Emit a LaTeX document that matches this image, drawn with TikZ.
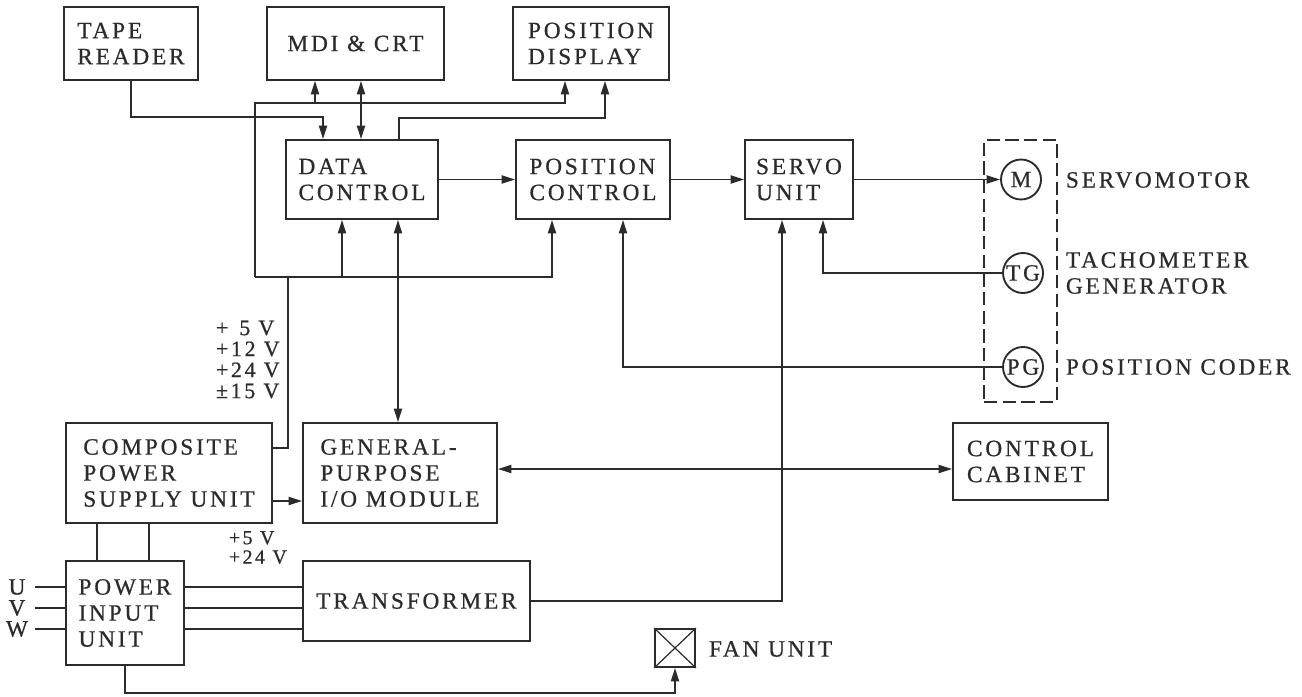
\documentclass[tikz,border=0pt]{standalone}
\usepackage{fontspec}
\setmainfont{Liberation Serif}[LetterSpace=12,FakeBold=0.6]
\usetikzlibrary{arrows.meta,calc}
\definecolor{ink}{HTML}{2B2B2B}
\newcommand\boxfont{\fontsize{17.5}{19.5}\selectfont}
\newcommand\voltfont{\fontsize{16.5}{15.75}\selectfont}
\newcommand\voltfontb{\fontsize{15}{14.5}\selectfont}
\begin{document}
\begin{tikzpicture}[x=0.75pt,y=-0.75pt,color=ink,line width=1.4pt,
  bx/.style n args={2}{draw, align=left, inner sep=0pt, font=\boxfont,
     minimum width=#1*0.75pt, minimum height=#2*0.75pt},
  lbl/.style={inner sep=0pt, anchor=west, align=left, font=\boxfont},
  circ/.style={draw, circle, minimum size=40*0.75pt, inner sep=0pt, font=\boxfont},
  phase/.style={inner sep=0pt, minimum width=34*0.75pt, font=\boxfont},
  grpbox/.style={draw, dash pattern=on 10pt off 4pt, inner sep=0pt,
     minimum width=73*0.75pt, minimum height=262*0.75pt},
  arr/.style={-{Triangle[length=10pt,width=6pt]}},
  arr2/.style={{Triangle[length=10pt,width=6pt]}-{Triangle[length=10pt,width=6pt]}}]
\fill[white] (0,0) rectangle (1302,696);
\useasboundingbox (0,0) rectangle (1302,696);

% boxes
\node[bx={134}{73}] (tape) at (131,43.5) {TAPE\\READER};
\node[bx={177}{73}] (mdi) at (355.5,43.5) {MDI \& CRT};
\node[bx={156}{73}] (pd) at (591,43.5) {POSITION\\DISPLAY};
\node[bx={152}{79}] (dc) at (362,179.5) {DATA\\CONTROL};
\node[bx={154}{79}] (pc) at (593,179.5) {POSITION\\CONTROL};
\node[bx={108}{79}] (su) at (799,179.5) {SERVO\\UNIT};
\node[grpbox] (grp) at (1020.5,271) {};
\node[circ] (m) at (1021,179.5) {M};
\node[circ] (tg) at (1023,273) {TG};
\node[circ] (pg) at (1023,367) {PG};
\node[lbl] (lm) at (1065,180) {SERVOMOTOR};
\node[lbl] (ltg) at (1065,273) {TACHOMETER\\GENERATOR};
\node[lbl] (lpg) at (1065,367) {POSITION CODER};
\node[bx={206}{100}] (comp) at (169,473) {COMPOSITE\\POWER\\SUPPLY UNIT};
\node[bx={194}{100}] (io) at (400,473) {GENERAL-\\PURPOSE\\I/O MODULE};
\node[bx={155}{77}] (cc) at (1030.5,461.5) {CONTROL\\CABINET};
\node[bx={118}{104}] (piu) at (125,613) {POWER\\INPUT\\UNIT};
\node[bx={227}{80}] (tr) at (416.5,601) {TRANSFORMER};
\node[bx={40}{38}] (fan) at (675,648) {};
\node[lbl] (lfan) at (708,649) {FAN UNIT};
\node[lbl, font=\voltfont] (volt1) at (215,359.5) {+\phantom{1}5 V\\+12 V\\+24 V\\±15 V};
\node[lbl, font=\voltfontb] (volt2) at (228,547.5) {+5 V\\+24 V};
\node[phase] (U) at (17,587) {U};
\node[phase] (V) at (17,608) {V};
\node[phase] (W) at (17,629) {W};

\draw[line width=0.9pt] (fan.north west) -- (fan.south east) (fan.north east) -- (fan.south west);

% helper coordinates
\coordinate (kTape) at (323,117);
\coordinate (kMdi) at (361,0);
\coordinate (kBus) at (255,277);
\coordinate (kTop) at (255,103);
\coordinate (kMdiP) at (315,103);
\coordinate (kPd1) at (565,103);
\coordinate (kDcOut) at (399,118);
\coordinate (kPd2) at (605,118);
\coordinate (kDcP) at (342,277);
\coordinate (kPcP) at (552,277);
\coordinate (kPsu) at (288,448);
\coordinate (kDcIo) at (398,0);
\coordinate (kIoY) at (288,501);
\coordinate (kCcY) at (700,469);
\coordinate (kSuT) at (782,0);
\coordinate (kSuTg) at (823,0);
\coordinate (kPcPg) at (623,0);
\coordinate (kL) at (97,0);
\coordinate (kR) at (149,0);
\coordinate (kFan) at (675,693);

% connectors
\draw[arr] (tape.south) |- (kTape) -- (kTape |- dc.north);
\draw[arr2] (kMdi |- mdi.south) -- (kMdi |- dc.north);
\draw (comp.east |- kPsu) -- (kPsu) -- (kPsu |- kBus);
\draw[arr] (kBus) -- (kTop) -- (kPd1) -- (kPd1 |- pd.south);
\draw[arr] (kMdiP) -- (kMdiP |- mdi.south);
\draw[arr] (kBus) -| (kPcP |- pc.south);
\draw[arr] (kDcP) -- (kDcP |- dc.south);
\draw[arr] (kDcOut |- dc.north) -- (kDcOut) -| (kPd2 |- pd.south);
\draw[arr] (dc.east) -- (pc.west);
\draw[arr] (pc.east) -- (su.west);
\draw[arr] (su.east) -- (m.west);
\draw[arr] (tg.west) -| (kSuTg |- su.south);
\draw[arr] (pg.west) -| (kPcPg |- pc.south);
\draw[arr] (tr.east) -| (kSuT |- su.south);
\draw[arr2] (kDcIo |- dc.south) -- (kDcIo |- io.north);
\draw[arr] (comp.east |- kIoY) -- (kIoY -| io.west);
\draw[arr2] (io.east |- kCcY) -- (kCcY -| cc.west);
\draw (kL |- comp.south) -- (kL |- piu.north);
\draw (kR |- comp.south) -- (kR |- piu.north);
\draw (U.east) -- (U.east -| piu.west);
\draw (V.east) -- (V.east -| piu.west);
\draw (W.east) -- (W.east -| piu.west);
\draw (U.east -| piu.east) -- (U.east -| tr.west);
\draw (V.east -| piu.east) -- (V.east -| tr.west);
\draw (W.east -| piu.east) -- (W.east -| tr.west);
\draw[arr] (piu.south) |- (kFan) -- (fan.south);
\end{tikzpicture}
\end{document}
